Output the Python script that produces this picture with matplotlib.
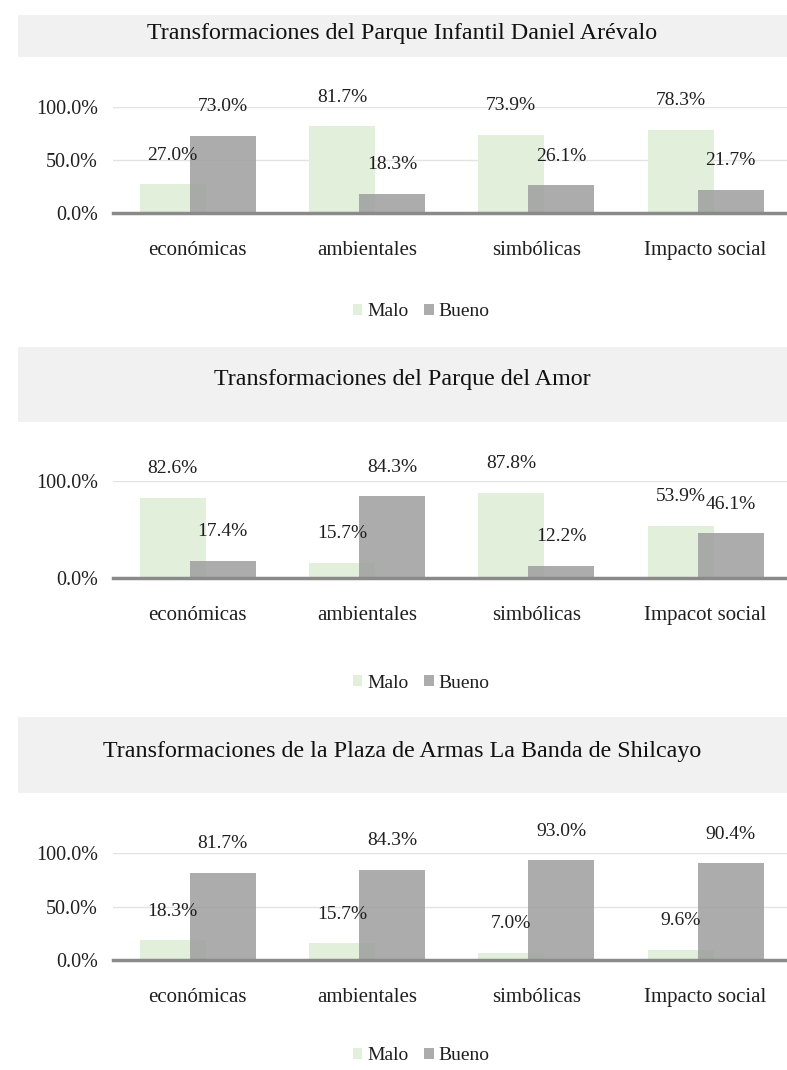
import matplotlib
matplotlib.use("Agg")
import matplotlib.pyplot as plt
from matplotlib.patches import Rectangle, Patch
from matplotlib.ticker import PercentFormatter, FixedLocator

plt.rcParams['font.family'] = ['Liberation Serif', 'DejaVu Serif']

titles = [
    "Transformaciones del Parque Infantil Daniel Arévalo",
    "Transformaciones del Parque del Amor",
    "Transformaciones de la Plaza de Armas La Banda de Shilcayo",
]
categories1 = ['económicas', 'ambientales', 'simbólicas', 'Impacto social']
categories2 = ['económicas', 'ambientales', 'simbólicas', 'Impacot social']
categories3 = ['económicas', 'ambientales', 'simbólicas', 'Impacto social']
malo1 = [27.0, 81.7, 73.9, 78.3]
bueno1 = [73.0, 18.3, 26.1, 21.7]
malo2 = [82.6, 15.7, 87.8, 53.9]
bueno2 = [17.4, 84.3, 12.2, 46.1]
malo3 = [18.3, 15.7, 7.0, 9.6]
bueno3 = [81.7, 84.3, 93.0, 90.4]
yticks1 = [0, 50, 100]
yticks2 = [0, 100]
yticks3 = [0, 50, 100]
series_names = ['Malo', 'Bueno']

W, H = 787, 1070
fig = plt.figure(figsize=(W / 100, H / 100), dpi=100)

GREEN = '#e2efda'
GREY = '#9e9e9e'
TXT = '#1f1f1f'


def fx(x):
    return x / W


def fy(y):
    return 1 - y / H


panels = [
    dict(title=titles[0], cats=categories1, malo=malo1, bueno=bueno1, yt=yticks1,
         band=(15, 57), ty=33, top=107, bot=213, leg=312),
    dict(title=titles[1], cats=categories2, malo=malo2, bueno=bueno2, yt=yticks2,
         band=(347, 422), ty=379, top=481, bot=578, leg=683),
    dict(title=titles[2], cats=categories3, malo=malo3, bueno=bueno3, yt=yticks3,
         band=(717, 793), ty=751, top=853, bot=960, leg=1056),
]

left_px = 113
width_px = W - left_px
spacing = 169.3
bw = 66 / spacing
off = 25 / spacing

for p in panels:
    b0, b1 = p['band']
    fig.patches.append(Rectangle((fx(18), fy(b1)), fx(W - 18), (b1 - b0) / H,
                                 transform=fig.transFigure, facecolor='#f1f1f1',
                                 edgecolor='none', zorder=0))
    fig.text(0.5 + fx(18) / 2, fy(p['ty']), p['title'], ha='center', va='center',
             fontsize=17.3, color='#111111')

    ax = fig.add_axes([fx(left_px), fy(p['bot']), fx(width_px), (p['bot'] - p['top']) / H])
    ax.set_facecolor('none')
    x = list(range(len(p['cats'])))
    xm = [i - off for i in x]
    xb = [i + off for i in x]
    bars_m = ax.bar(xm, p['malo'], width=bw, color=GREEN, zorder=2)
    bars_b = ax.bar(xb, p['bueno'], width=bw, color=GREY, alpha=0.85, zorder=3)
    for bars, vals in ((bars_m, p['malo']), (bars_b, p['bueno'])):
        for r, v in zip(bars, vals):
            ax.annotate(f"{v:.1f}%", (r.get_x() + r.get_width() / 2, v),
                        xytext=(0, 21), textcoords='offset points',
                        ha='center', va='center', fontsize=14, color=TXT,
                        annotation_clip=False, zorder=5)
    ax.set_xlim(-0.5, -0.5 + width_px / spacing)
    ax.set_ylim(0, 100)
    ax.yaxis.set_major_locator(FixedLocator(p['yt']))
    ax.yaxis.set_major_formatter(PercentFormatter(xmax=100, decimals=1))
    ax.set_xticks(x)
    ax.set_xticklabels(p['cats'])
    ax.tick_params(axis='x', length=0, pad=20, labelsize=15, labelcolor=TXT)
    ax.tick_params(axis='y', length=0, pad=11, labelsize=14.5, labelcolor=TXT)
    for s in ('top', 'right', 'left'):
        ax.spines[s].set_visible(False)
    ax.spines['bottom'].set_color('#8a8a8a')
    ax.spines['bottom'].set_linewidth(2.5)
    ax.spines['bottom'].set_zorder(4)
    ax.set_axisbelow(True)
    ax.yaxis.grid(True, color='#e3e3e3', linewidth=1)

    handles = [Patch(facecolor=GREEN, edgecolor='none'),
               Patch(facecolor=GREY, alpha=0.85, edgecolor='none')]
    fig.legend(handles, series_names, loc='center', bbox_to_anchor=(fx(421), fy(p['leg'])),
               ncol=2, frameon=False, fontsize=14, handlelength=0.5, handleheight=0.5,
               handletextpad=0.25, columnspacing=0.8, labelcolor=TXT)

fig.savefig('out.png', dpi=100)
